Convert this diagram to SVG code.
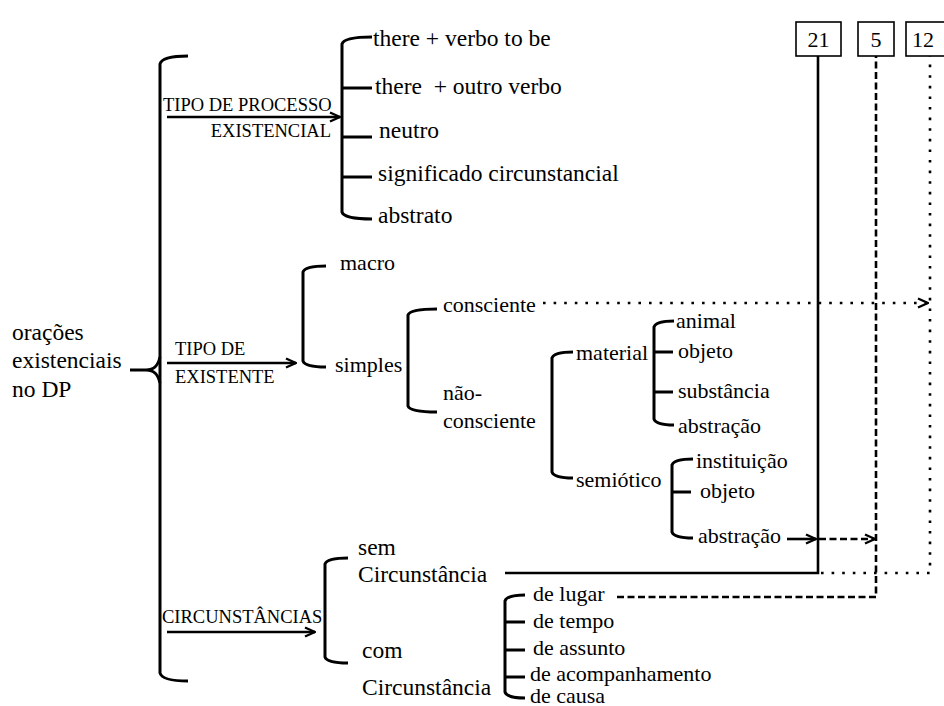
<svg xmlns="http://www.w3.org/2000/svg" width="944" height="706" viewBox="0 0 944 706">
  <defs>
    <style>
      text { font-family: "Liberation Serif", "Times New Roman", serif; fill: #000; }
      .t { font-size: 23.5px; }
      .m { font-size: 22px; }
      .lab { font-size: 18.5px; }
      .br { fill: none; stroke: #000; stroke-width: 3; }
      .ln { fill: none; stroke: #000; stroke-width: 2.6; }
      .dash { fill: none; stroke: #000; stroke-width: 2.6; stroke-dasharray: 7 3.5; }
      .dot { fill: none; stroke: #000; stroke-width: 2.6; stroke-dasharray: 2.6 8; }
      .box { fill: #fff; stroke: #000; stroke-width: 1.6; }
    </style>
    <marker id="arrow" viewBox="0 0 12 12" refX="11" refY="6" markerWidth="12" markerHeight="12" markerUnits="userSpaceOnUse" orient="auto">
      <path d="M1,1.5 L11,6 L1,10.5" fill="none" stroke="#000" stroke-width="2.4"/>
    </marker>
  </defs>

  <!-- brackets, arrows and cross-links -->
  <g id="connectors">
    <!-- main brace -->
    <path class="br" d="M188,56 Q162,56 160,64 V673 Q162,681 188,681"/>
    <path class="br" d="M130,370 H146 C154,370 158,366 160,357 M146,370 C154,370 158,374 160,383"/>

    <!-- tipo de processo -->
    <line class="ln" x1="167" y1="117" x2="340" y2="117" marker-end="url(#arrow)"/>
    <path class="br" d="M372,37 Q344,37 342,44 V212 Q344,219 372,219"/>
    <path class="br" d="M342,88 H372 M342,137 H372 M342,177 H372"/>

    <!-- tipo de existente -->
    <line class="ln" x1="167" y1="363" x2="296" y2="363" marker-end="url(#arrow)"/>
    <path class="br" d="M326,266 Q305,266 303,272 V361 Q305,367 326,367"/>
    <path class="br" d="M437,309 Q410,309 408,315 V406 Q410,412 437,412"/>
    <path class="br" d="M573,352 Q554,352 552,358 V472 Q554,478 573,478"/>
    <path class="br" d="M674,321 Q656,321 654,327 V419 Q656,425 674,425"/>
    <path class="br" d="M654,352 H673 M654,392 H673"/>
    <path class="br" d="M693,459 Q674,459 672,465 V532 Q674,538 693,538"/>
    <path class="br" d="M672,492 H691"/>

    <!-- circunstâncias -->
    <line class="ln" x1="167" y1="632" x2="315" y2="632" marker-end="url(#arrow)"/>
    <path class="br" d="M348,558 Q327,558 325,564 V657 Q327,663 348,663"/>
    <path class="br" d="M525,595 Q507,595 505,601 V692 Q507,698 525,698"/>
    <path class="br" d="M505,622 H525 M505,650 H525 M505,677 H525"/>

    <!-- links to 21 -->
    <path class="ln" d="M505,573 H818 V56"/>
    <line class="ln" x1="787" y1="539" x2="816" y2="539" marker-end="url(#arrow)"/>
    <!-- links to 5 -->
    <path class="dash" d="M617,597 H876 V56"/>
    <line class="dash" x1="819" y1="539" x2="875" y2="539" marker-end="url(#arrow)"/>
    <!-- links to 12 -->
    <line class="dot" x1="543" y1="303" x2="928" y2="303" marker-end="url(#arrow)"/>
    <path class="dot" d="M821,573 H930 V56"/>
  </g>

  <!-- reference boxes -->
  <g id="box-21">
    <rect class="box" x="796" y="22" width="45" height="34"/>
    <text class="m" x="818.5" y="47" text-anchor="middle">21</text>
  </g>
  <g id="box-5">
    <rect class="box" x="858" y="22" width="36" height="34"/>
    <text class="m" x="876" y="47" text-anchor="middle">5</text>
  </g>
  <g id="box-12">
    <rect class="box" x="906" y="22" width="44" height="34"/>
    <text class="m" x="912" y="47">12</text>
  </g>

  <!-- root -->
  <g id="root">
    <text class="t" x="12" y="340">orações</text>
    <text class="t" x="12" y="368">existenciais</text>
    <text class="t" x="12" y="397">no DP</text>
  </g>

  <!-- branch labels -->
  <g id="label-processo">
    <text class="lab" x="163" y="111">TIPO DE PROCESSO</text>
    <text class="lab" x="331" y="137" text-anchor="end">EXISTENCIAL</text>
  </g>
  <g id="label-existente">
    <text class="lab" x="175" y="355">TIPO DE</text>
    <text class="lab" x="175" y="383">EXISTENTE</text>
  </g>
  <g id="label-circunstancias">
    <text class="lab" x="162" y="623">CIRCUNSTÂNCIAS</text>
  </g>

  <!-- process types -->
  <g id="there-to-be"><text class="t" x="373" y="46">there + verbo to be</text></g>
  <g id="there-outro"><text class="t" x="375" y="94" xml:space="preserve">there  + outro verbo</text></g>
  <g id="neutro"><text class="t" x="379" y="138">neutro</text></g>
  <g id="significado"><text class="t" x="378" y="181">significado circunstancial</text></g>
  <g id="abstrato"><text class="t" x="378" y="223">abstrato</text></g>

  <!-- existent types -->
  <g id="macro"><text class="m" x="340" y="270">macro</text></g>
  <g id="simples"><text class="m" x="335" y="372">simples</text></g>
  <g id="consciente"><text class="m" x="443" y="312">consciente</text></g>
  <g id="nao-consciente">
    <text class="m" x="443" y="400">não-</text>
    <text class="m" x="443" y="428">consciente</text>
  </g>
  <g id="material"><text class="m" x="576" y="360">material</text></g>
  <g id="semiotico"><text class="m" x="576" y="487">semiótico</text></g>
  <g id="mat-animal"><text class="m" x="676" y="328">animal</text></g>
  <g id="mat-objeto"><text class="m" x="678" y="358">objeto</text></g>
  <g id="mat-substancia"><text class="m" x="678" y="398">substância</text></g>
  <g id="mat-abstracao"><text class="m" x="678" y="433">abstração</text></g>
  <g id="sem-instituicao"><text class="m" x="696" y="468">instituição</text></g>
  <g id="sem-objeto"><text class="m" x="700" y="498">objeto</text></g>
  <g id="sem-abstracao"><text class="m" x="698" y="543">abstração</text></g>

  <!-- circumstances -->
  <g id="sem-circ">
    <text class="t" x="358" y="555">sem</text>
    <text class="t" x="358" y="582">Circunstância</text>
  </g>
  <g id="com-circ">
    <text class="t" x="362" y="658">com</text>
    <text class="t" x="362" y="695">Circunstância</text>
  </g>
  <g id="de-lugar"><text class="m" x="533" y="601">de lugar</text></g>
  <g id="de-tempo"><text class="m" x="533" y="628">de tempo</text></g>
  <g id="de-assunto"><text class="m" x="533" y="655">de assunto</text></g>
  <g id="de-acompanhamento"><text class="m" x="530" y="681">de acompanhamento</text></g>
  <g id="de-causa"><text class="m" x="530" y="703">de causa</text></g>
</svg>
